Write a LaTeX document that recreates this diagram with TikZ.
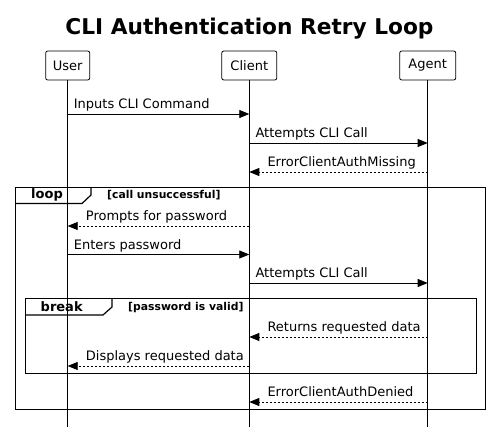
\documentclass[tikz,border=0pt]{standalone}
\usepackage{fontspec}
\setmainfont{DejaVu Sans}
\usetikzlibrary{arrows.meta}
\begin{document}
\begin{tikzpicture}[x=1pt,y=-1pt,
  actor/.style={draw,rounded corners=2pt,minimum height=29pt,inner sep=0pt,line width=0.8pt,font=\fontsize{13}{15}\selectfont},
  life/.style={line width=0.8pt},
  msg/.style={line width=0.8pt,-{Triangle[length=10pt,width=8pt]}},
  ret/.style={msg,dash pattern=on 2pt off 2pt},
  lbl/.style={font=\fontsize{13}{15}\selectfont,anchor=base west,inner sep=0pt},
  fbox/.style={line width=1.2pt},
  ftag/.style={font=\bfseries\fontsize{13}{15}\selectfont,anchor=base west,inner sep=0pt},
  fcond/.style={font=\bfseries\fontsize{10.8}{12}\selectfont,anchor=base west,inner sep=0pt}
]
\useasboundingbox (0,0) rectangle (491,433);
% title
\node[font=\bfseries\fontsize{21.7}{24}\selectfont,anchor=base,inner sep=0pt] (title) at (249.5,34.5) {CLI Authentication Retry Loop};
% actors
\node[actor,minimum width=44pt] (U) at (67.7,65.5) {User};
\node[actor,minimum width=55pt] (C) at (249.3,65.5) {Client};
\node[actor,minimum width=56pt] (A) at (427.7,65.5) {Agent};
\coordinate (bot) at (0,427);
\draw[life] (U.south) -- (U |- bot);
\draw[life] (C.south) -- (C |- bot);
\draw[life] (A.south) -- (A |- bot);
% message rows
\coordinate (r1) at (0,114);
\coordinate (r2) at (0,143);
\coordinate (r3) at (0,172);
\coordinate (r4) at (0,226);
\coordinate (r5) at (0,254.5);
\coordinate (r6) at (0,283);
\coordinate (r7) at (0,337);
\coordinate (r8) at (0,366);
\coordinate (r9) at (0,402);
% loop frame
\draw[fbox] (15.5,187.5) rectangle (485.5,409.5);
\draw[fbox] (15.5,203.5) -- (82,203.5) -- (91,195) -- (91,187.5);
\node[ftag] (looptag) at (31,199) {loop};
\node[fcond] (loopcond) at (107,198.5) {[call unsuccessful]};
% break frame
\draw[fbox] (25.5,298.5) rectangle (476.5,373.5);
\draw[fbox] (25.5,315) -- (103,315) -- (112,307) -- (112,298.5);
\node[ftag] (breaktag) at (40.5,311.5) {break};
\node[fcond] (breakcond) at (128,311) {[password is valid]};
% messages
\draw[msg] (U |- r1) -- (C |- r1);
\node[lbl] (m1) at ([xshift=6pt,yshift=5pt]U |- r1) {Inputs CLI Command};
\draw[msg] (C |- r2) -- (A |- r2);
\node[lbl] (m2) at ([xshift=6pt,yshift=5pt]C |- r2) {Attempts CLI Call};
\draw[ret] (A |- r3) -- (C |- r3);
\node[lbl] (m3) at ([xshift=18pt,yshift=5pt]C |- r3) {ErrorClientAuthMissing};
\draw[ret] (C |- r4) -- (U |- r4);
\node[lbl] (m4) at ([xshift=18pt,yshift=5pt]U |- r4) {Prompts for password};
\draw[msg] (U |- r5) -- (C |- r5);
\node[lbl] (m5) at ([xshift=6pt,yshift=5pt]U |- r5) {Enters password};
\draw[msg] (C |- r6) -- (A |- r6);
\node[lbl] (m6) at ([xshift=6pt,yshift=5pt]C |- r6) {Attempts CLI Call};
\draw[ret] (A |- r7) -- (C |- r7);
\node[lbl] (m7) at ([xshift=18pt,yshift=5pt]C |- r7) {Returns requested data};
\draw[ret] (C |- r8) -- (U |- r8);
\node[lbl] (m8) at ([xshift=18pt,yshift=5pt]U |- r8) {Displays requested data};
\draw[ret] (A |- r9) -- (C |- r9);
\node[lbl] (m9) at ([xshift=18pt,yshift=5pt]C |- r9) {ErrorClientAuthDenied};
\end{tikzpicture}
\end{document}
